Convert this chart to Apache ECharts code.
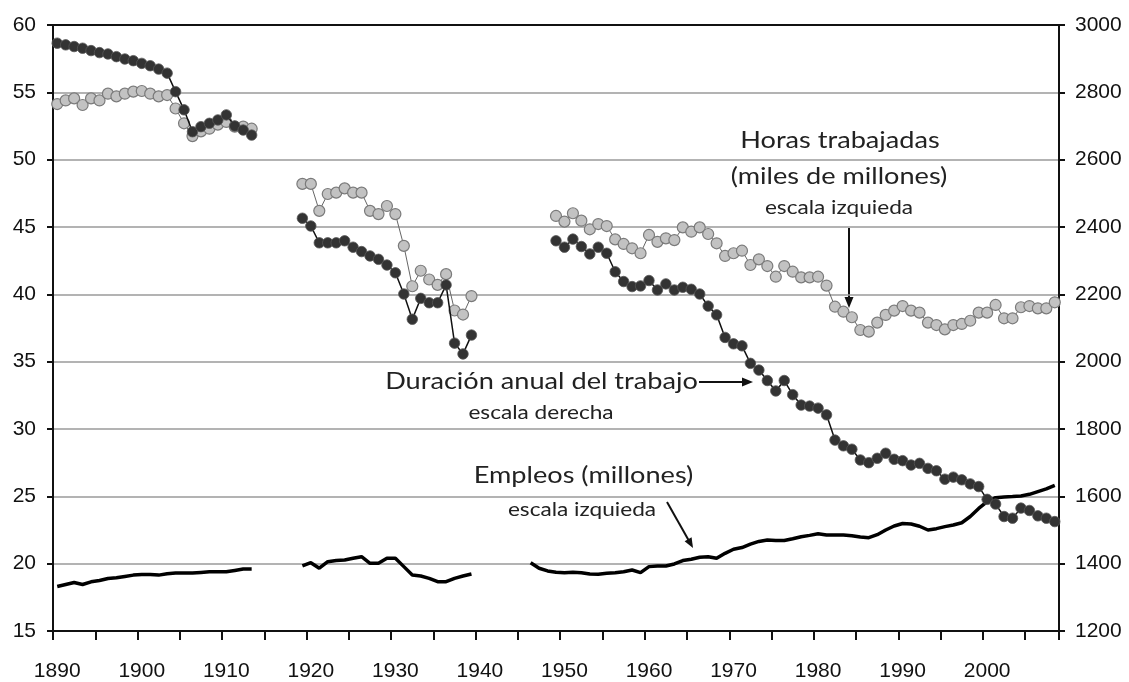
<!DOCTYPE html>
<html><head><meta charset="utf-8">
<script src="https://cdn.jsdelivr.net/npm/echarts@6/dist/echarts.min.js"></script>
<style>html,body{margin:0;padding:0;background:#fff}#c{width:1129px;height:682px}</style>
</head><body><div id="c"></div>
<script>
// ---- Categories (years) ----
const firstYear = 1890, lastYear = 2008;
const years = [];
for (let y = firstYear; y <= lastYear; y++) years.push(String(y));

// ---- Horas trabajadas (miles de millones) – left axis ----
const horas1890 = [54.13, 54.4, 54.55, 54.06, 54.55, 54.4, 54.9, 54.7, 54.9, 55.05, 55.1, 54.9, 54.7, 54.8, 53.8, 52.7, 51.75, 52.1, 52.3, 52.6, 52.8, 52.45, 52.45, 52.3];
const horas1919 = [48.2, 48.2, 46.2, 47.45, 47.55, 47.87, 47.55, 47.55, 46.2, 45.96, 46.56, 45.96, 43.6, 40.6, 41.75, 41.1, 40.7, 41.5, 38.8, 38.5, 39.87];
const horas1949 = [45.82, 45.4, 46.02, 45.47, 44.83, 45.22, 45.07, 44.08, 43.74, 43.42, 43.05, 44.41, 43.9, 44.16, 44.03, 44.97, 44.65, 44.97, 44.48, 43.79, 42.85, 43.05, 43.24, 42.18, 42.6, 42.1, 41.31, 42.1, 41.68, 41.26, 41.26, 41.31, 40.65, 39.08, 38.71, 38.3, 37.35, 37.23, 37.9, 38.47, 38.79, 39.13, 38.79, 38.64, 37.9, 37.72, 37.4, 37.72, 37.8, 38.04, 38.64, 38.64, 39.21, 38.22, 38.22, 39.04, 39.13, 38.96, 38.96, 39.41];

// ---- Duración anual del trabajo (horas) – right axis ----
const dur1890 = [2946, 2941, 2936, 2931, 2924, 2918, 2914, 2906, 2899, 2894, 2886, 2879, 2869, 2857, 2802, 2748, 2683, 2698, 2708, 2718, 2733, 2700, 2688, 2673];
const dur1919 = [2426, 2403, 2353, 2353, 2353, 2359, 2340, 2327, 2314, 2304, 2287, 2264, 2201, 2126, 2188, 2175, 2175, 2228, 2055, 2023, 2079];
const dur1949 = [2359, 2340, 2364, 2342, 2320, 2340, 2322, 2267, 2238, 2223, 2225, 2241, 2213, 2231, 2213, 2221, 2215, 2201, 2165, 2139, 2072, 2053, 2047, 1995, 1975, 1944, 1913, 1944, 1902, 1871, 1868, 1862, 1842, 1767, 1750, 1740, 1708, 1700, 1713, 1728, 1710, 1706, 1693, 1698, 1683, 1676, 1651, 1657, 1649, 1637, 1629, 1591, 1577, 1540, 1535, 1565, 1558, 1542, 1535, 1525];

// ---- Empleos (millones) – left axis ----
const emp1890 = [18.3, 18.45, 18.6, 18.45, 18.65, 18.75, 18.9, 18.95, 19.05, 19.15, 19.2, 19.2, 19.15, 19.25, 19.3, 19.3, 19.3, 19.35, 19.4, 19.4, 19.4, 19.5, 19.6, 19.6];
const emp1919 = [19.83, 20.07, 19.66, 20.15, 20.23, 20.27, 20.4, 20.52, 20.03, 20.03, 20.4, 20.4, 19.78, 19.16, 19.08, 18.91, 18.66, 18.66, 18.91, 19.08, 19.23];
const emp1946 = [20.07, 19.66, 19.46, 19.36, 19.33, 19.36, 19.33, 19.23, 19.21, 19.28, 19.33, 19.4, 19.53, 19.33, 19.78, 19.83, 19.83, 19.98, 20.23, 20.33, 20.48, 20.52, 20.4, 20.77, 21.07, 21.2, 21.45, 21.65, 21.75, 21.72, 21.72, 21.85, 22.0, 22.1, 22.22, 22.13, 22.13, 22.13, 22.08, 21.98, 21.93, 22.15, 22.5, 22.8, 22.98, 22.95, 22.78, 22.5, 22.6, 22.75, 22.87, 23.04, 23.5, 24.1, 24.6, 24.9, 24.95, 24.98, 25.03, 25.15, 25.35, 25.55, 25.82];

// ---- Axis ticks ----
const leftMin = 15, leftMax = 60, leftStep = 5;
const rightMin = 1200, rightMax = 3000, rightStep = 200;

function build(segments) {
  const out = years.map(() => null);
  segments.forEach(([start, arr]) => {
    arr.forEach((v, i) => { out[start - firstYear + i] = v; });
  });
  return out;
}
const horas = build([[1890, horas1890], [1919, horas1919], [1949, horas1949]]);
const duracion = build([[1890, dur1890], [1919, dur1919], [1949, dur1949]]);
const empleos = build([[1890, emp1890], [1919, emp1919], [1946, emp1946]]);

const chart = echarts.init(document.getElementById('c'));
const axisFont = { fontFamily: 'Liberation Sans', fontSize: 21, color: '#111' };
const annFont = 'Lato, sans-serif';

function label(text, cx, cy, size, sx) {
  return {
    type: 'text', x: cx, y: cy, scaleX: sx, z: 10,
    style: { text: text, font: size + 'px ' + annFont, fill: '#222', textAlign: 'center', textVerticalAlign: 'middle' }
  };
}

chart.setOption({
  animation: false,
  backgroundColor: '#fff',
  grid: { left: 53, right: 70, top: 25, bottom: 51 },
  xAxis: [{
    type: 'category', data: years, boundaryGap: true, position: 'bottom',
    axisLine: { lineStyle: { color: '#111', width: 2 } },
    axisTick: { show: true, length: 9, interval: (i) => i % 5 === 0, lineStyle: { color: '#111', width: 2 } },
    axisLabel: Object.assign({ margin: 30, interval: (i, v) => Number(v) % 10 === 0 }, axisFont),
    splitLine: { show: false }
  }, {
    type: 'category', data: years, boundaryGap: true, position: 'top',
    axisLine: { lineStyle: { color: '#111', width: 2 } },
    axisTick: { show: false }, axisLabel: { show: false }, splitLine: { show: false }
  }],
  yAxis: [{
    type: 'value', min: leftMin, max: leftMax, interval: leftStep, position: 'left',
    axisLine: { show: true, lineStyle: { color: '#111', width: 2 } },
    axisTick: { show: true, length: 6, lineStyle: { color: '#111', width: 2 } },
    axisLabel: Object.assign({ margin: 17 }, axisFont),
    splitLine: { show: true, lineStyle: { color: '#9a9a9a', width: 1.5 } }
  }, {
    type: 'value', min: rightMin, max: rightMax, interval: rightStep, position: 'right',
    axisLine: { show: true, lineStyle: { color: '#111', width: 2 } },
    axisTick: { show: true, length: 6, lineStyle: { color: '#111', width: 2 } },
    axisLabel: Object.assign({ margin: 16, formatter: (v) => String(v) }, axisFont),
    splitLine: { show: false }
  }],
  series: [{
    name: 'Empleos (millones)', type: 'line', data: empleos, yAxisIndex: 0,
    showSymbol: false, connectNulls: false, z: 2,
    lineStyle: { color: '#000', width: 3.5 }
  }, {
    name: 'Horas trabajadas', type: 'line', data: horas, yAxisIndex: 0,
    symbol: 'circle', symbolSize: 11, showAllSymbol: true, connectNulls: false, z: 3,
    lineStyle: { color: '#666', width: 1 },
    itemStyle: { color: '#c2c2c2', borderColor: '#7a7a7a', borderWidth: 1.2 }
  }, {
    name: 'Duración anual del trabajo', type: 'line', data: duracion, yAxisIndex: 1,
    symbol: 'circle', symbolSize: 10.5, showAllSymbol: true, connectNulls: false, z: 4,
    lineStyle: { color: '#111', width: 1.5 },
    itemStyle: { color: '#333', borderColor: '#555', borderWidth: 0.8 }
  }],
  graphic: [
    label('Horas trabajadas', 840, 141, 23, 1.18),
    label('(miles de millones)', 839, 177, 23, 1.18),
    label('escala izquieda', 839, 208, 19.5, 1.16),
    { type: 'line', shape: { x1: 849, y1: 228, x2: 849, y2: 299 }, style: { stroke: '#111', lineWidth: 2 } },
    { type: 'polygon', shape: { points: [[849, 308], [844.5, 297], [853.5, 297]] }, style: { fill: '#111' } },

    label('Duración anual del trabajo', 541.5, 382, 23, 1.18),
    { type: 'line', shape: { x1: 699, y1: 382, x2: 743, y2: 382 }, style: { stroke: '#111', lineWidth: 2 } },
    { type: 'polygon', shape: { points: [[753, 382], [742, 377.5], [742, 386.5]] }, style: { fill: '#111' } },
    label('escala derecha', 541, 413, 19.5, 1.16),

    label('Empleos (millones)', 583.5, 476, 23, 1.18),
    label('escala izquieda', 582, 510, 19.5, 1.16),
    { type: 'line', shape: { x1: 667, y1: 502, x2: 688.5, y2: 540 }, style: { stroke: '#111', lineWidth: 2 } },
    { type: 'polygon', shape: { points: [[693, 548], [684.6, 541.3], [691.6, 537.3]] }, style: { fill: '#111' } }
  ]
});
</script>
</body></html>
